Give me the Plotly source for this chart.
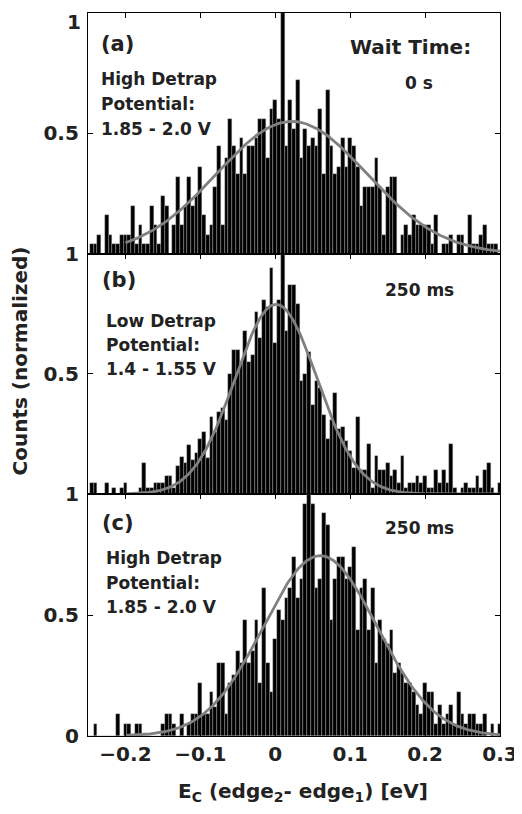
import numpy as np
import plotly.graph_objects as go

# ---------------- data ----------------
bin_width = 0.005
bin_centers = np.round(np.arange(-0.25, 0.3 + 1e-9, bin_width), 3)  # 111 bins

counts_a = [0, 0.04, 0.04, 0.08, 0, 0.16, 0.08, 0.04, 0.04, 0.08,
            0.08, 0.08, 0.20, 0.04, 0.12, 0.04, 0.04, 0.20, 0.12, 0.04,
            0.24, 0.20, 0, 0.12, 0.32, 0.12, 0.20, 0.32, 0.20, 0.24,
            0.36, 0.16, 0.08, 0.12, 0.28, 0.45, 0.12, 0.40, 0.56, 0.45,
            0.33, 0.48, 0.33, 0.45, 0.45, 0.48, 0.56, 0.56, 0.40, 0.60,
            0.64, 0.56, 1.0, 0.45, 0.64, 0.52, 0.72, 0.40, 0.52, 0.45,
            0.48, 0.45, 0.60, 0.33, 0.68, 0.45, 0.33, 0.36, 0.48, 0.36,
            0.48, 0.45, 0.36, 0.20, 0.28, 0.28, 0.28, 0.40, 0.28, 0.08,
            0.28, 0.32, 0.32, 0, 0.08, 0.12, 0.08, 0.16, 0.12, 0.12,
            0.12, 0.12, 0.04, 0.16, 0, 0.04, 0.04, 0.08, 0, 0.08,
            0.08, 0, 0.16, 0.04, 0.04, 0.08, 0.12, 0.04, 0.04, 0.04,
            0]

counts_b = [0, 0.048, 0.048, 0, 0, 0.048, 0, 0.025, 0, 0.025,
            0.048, 0, 0, 0, 0.025, 0.129, 0.025, 0.025, 0.048, 0.048,
            0.048, 0.076, 0.076, 0.025, 0.115, 0.154, 0.129, 0.205, 0.14, 0.17,
            0.23, 0.26, 0.15, 0.32, 0.26, 0.34, 0.36, 0.31, 0.50, 0.60,
            0.60, 0.55, 0.68, 0.55, 0.58, 0.76, 0.65, 0.81, 0.78, 0.94,
            0.63, 0.81, 1.0, 0.68, 0.87, 0.87, 0.79, 0.47, 0.50, 0.59,
            0.37, 0.47, 0.44, 0.33, 0.23, 0.31, 0.42, 0.27, 0.28, 0.22,
            0.18, 0.11, 0.32, 0.10, 0.10, 0.21, 0.025, 0.16, 0.10, 0.10,
            0.13, 0.076, 0.10, 0.048, 0.16, 0.025, 0.048, 0.048, 0.076, 0.048,
            0.076, 0.025, 0.025, 0.10, 0.048, 0.10, 0.048, 0.21, 0.025, 0,
            0.025, 0.048, 0.025, 0.025, 0.076, 0.025, 0.10, 0.13, 0.025, 0,
            0.048]

counts_c = [0, 0, 0.05, 0, 0, 0, 0, 0, 0.09, 0,
            0.05, 0.05, 0, 0.05, 0.05, 0, 0, 0, 0, 0,
            0.05, 0.09, 0.09, 0.05, 0, 0.09, 0, 0.05, 0.09, 0.09,
            0.22, 0.09, 0.09, 0.18, 0.12, 0.30, 0.30, 0.09, 0.22, 0.25,
            0.35, 0.30, 0.48, 0.30, 0.35, 0.48, 0.22, 0.61, 0.30, 0.18,
            0.40, 0.52, 0.48, 0.57, 0.61, 0.74, 0.57, 0.65, 0.96, 1.0,
            0.96, 0.61, 0.65, 0.92, 0.87, 0.48, 0.65, 0.74, 0.74, 0.65,
            0.70, 0.78, 0.44, 0.61, 0.65, 0.44, 0.61, 0.30, 0.48, 0.40,
            0.38, 0.44, 0.26, 0.30, 0.26, 0.22, 0.22, 0.18, 0.13, 0.09,
            0.22, 0.18, 0.18, 0.05, 0.13, 0.05, 0.09, 0.13, 0.05, 0.18,
            0.09, 0.05, 0.09, 0.09, 0.05, 0.05, 0.09, 0, 0.05, 0,
            0.05]

# Gaussian fit parameters: amplitude, centre, sigma
fit_a = [0.55, 0.022, 0.100]
fit_b = [0.79, 0.001, 0.055]
fit_c = [0.745, 0.060, 0.076]
fit_x_range = [-0.2, 0.3]

x_ticks = [-0.2, -0.1, 0, 0.1, 0.2, 0.3]
x_ticklabels = ["\u22120.2", "\u22120.1", "0", "0.1", "0.2", "0.3"]
y_ticks_upper = [0.5, 1]          # panels (a), (b): "0" hidden under the panel above
y_ticklabels_upper = ["0.5", "1"]
y_ticks_lower = [0, 0.5, 1]
y_ticklabels_lower = ["0", "0.5", "1"]

panel_labels = ["(a)", "(b)", "(c)"]
wait_labels = [["Wait Time:", "0 s"], ["250 ms"], ["250 ms"]]
detrap_labels = [["High Detrap", "Potential:", "1.85 - 2.0 V"],
                 ["Low Detrap", "Potential:", "1.4 - 1.55 V"],
                 ["High Detrap", "Potential:", "1.85 - 2.0 V"]]

# ---------------- figure ----------------
FONT = "DejaVu Sans"
TXT = "#222222"
domains = [[0.6667, 1.0], [0.3347, 0.6667], [0.0, 0.3347]]

fig = go.Figure()
fits = [fit_a, fit_b, fit_c]
all_counts = [counts_a, counts_b, counts_c]
xc = np.linspace(fit_x_range[0], fit_x_range[1], 300)

for i in range(3):
    xa = "x" if i == 0 else f"x{i+1}"
    ya = "y" if i == 0 else f"y{i+1}"
    fig.add_trace(go.Bar(
        x=bin_centers, y=all_counts[i], width=bin_width,
        marker=dict(color="black", line=dict(color="rgba(190,190,190,0.7)", width=0.5)),
        xaxis=xa, yaxis=ya, showlegend=False, hoverinfo="skip"))
    amp, mu, sig = fits[i]
    fig.add_trace(go.Scatter(
        x=xc, y=amp * np.exp(-(xc - mu) ** 2 / (2 * sig ** 2)),
        mode="lines", line=dict(color="#808080", width=2.8),
        xaxis=xa, yaxis=ya, showlegend=False, hoverinfo="skip"))

axis_common = dict(showline=True, linecolor="black", linewidth=1.2, mirror="ticks",
                   ticks="inside", ticklen=5, tickwidth=1, tickcolor="black",
                   showgrid=False, zeroline=False, automargin=False)

# the page body adds an 8 px offset, so the figure is sized to fit inside it
layout = dict(
    width=514, height=806,
    margin=dict(l=80, r=22, t=5, b=78, autoexpand=False),
    paper_bgcolor="white", plot_bgcolor="white",
    font=dict(family=FONT, color=TXT),
    bargap=0,
)

for i in range(3):
    suffix = "" if i == 0 else str(i + 1)
    ya = "y" if i == 0 else f"y{i+1}"
    xa = "x" if i == 0 else f"x{i+1}"
    layout["xaxis" + suffix] = dict(
        axis_common, domain=[0, 1], anchor=ya, range=[-0.25, 0.3],
        tickvals=x_ticks, ticktext=x_ticklabels, showticklabels=(i == 2),
        tickfont=dict(family=FONT, size=20, color=TXT, weight="bold"),
        **({} if i == 0 else {"matches": "x"}))
    layout["yaxis" + suffix] = dict(
        axis_common, domain=domains[i], anchor=xa, range=[0, 1],
        tickvals=(y_ticks_lower if i == 2 else y_ticks_upper),
        ticktext=(y_ticklabels_lower if i == 2 else y_ticklabels_upper),
        ticklabelstandoff=4,
        tickfont=dict(family=FONT, size=20, color=TXT, weight="bold"))

fig.update_layout(**layout)

# ---------------- annotations ----------------
def ann(text, x, y, xref, yref, size, xanchor="left", **kw):
    fig.add_annotation(text=text, x=x, y=y, xref=xref, yref=yref, showarrow=False,
                       xanchor=xanchor, yanchor="middle",
                       font=dict(family=FONT, size=size, color=TXT, weight="bold"), **kw)

label_pos = [(-0.235, 0.871), (-0.2334, 0.892), (-0.2334, 0.88)]
detrap_pos = [(-0.235, [0.726, 0.622, 0.517]),
              (-0.228, [0.722, 0.620, 0.521]),
              (-0.228, [0.734, 0.633, 0.533])]
wait_pos = [[(0.181, 0.859, 20), (0.192, 0.71, 17)],
            [(0.192, 0.849, 17)],
            [(0.192, 0.861, 17)]]

for i in range(3):
    xr = "x" if i == 0 else f"x{i+1}"
    yr = "y" if i == 0 else f"y{i+1}"
    ann(panel_labels[i], label_pos[i][0], label_pos[i][1], xr, yr, 21)
    dx, dys = detrap_pos[i]
    for t, yy in zip(detrap_labels[i], dys):
        ann(t, dx, yy, xr, yr, 17)
    for t, (wx, wy, ws) in zip(wait_labels[i], wait_pos[i]):
        ann(t, wx, wy, xr, yr, ws, xanchor="center")

# top "1" tick label of panel (a) sits at the page edge, so draw it explicitly
fig.add_annotation(text="1", x=0, y=1, xref="paper", yref="y", showarrow=False,
                   xanchor="right", yanchor="top", xshift=-5, yshift=5,
                   font=dict(family=FONT, size=20, color=TXT, weight="bold"))

# axis titles
ann("E<sub>C</sub> (edge<sub>2</sub>- edge<sub>1</sub>) [eV]", 0.522, -0.0775,
    "paper", "paper", 20, xanchor="center")
ann("Counts (normalized)", -0.165, 0.518, "paper", "paper", 20,
    xanchor="center", textangle=-90)

fig.write_html("out.html")
